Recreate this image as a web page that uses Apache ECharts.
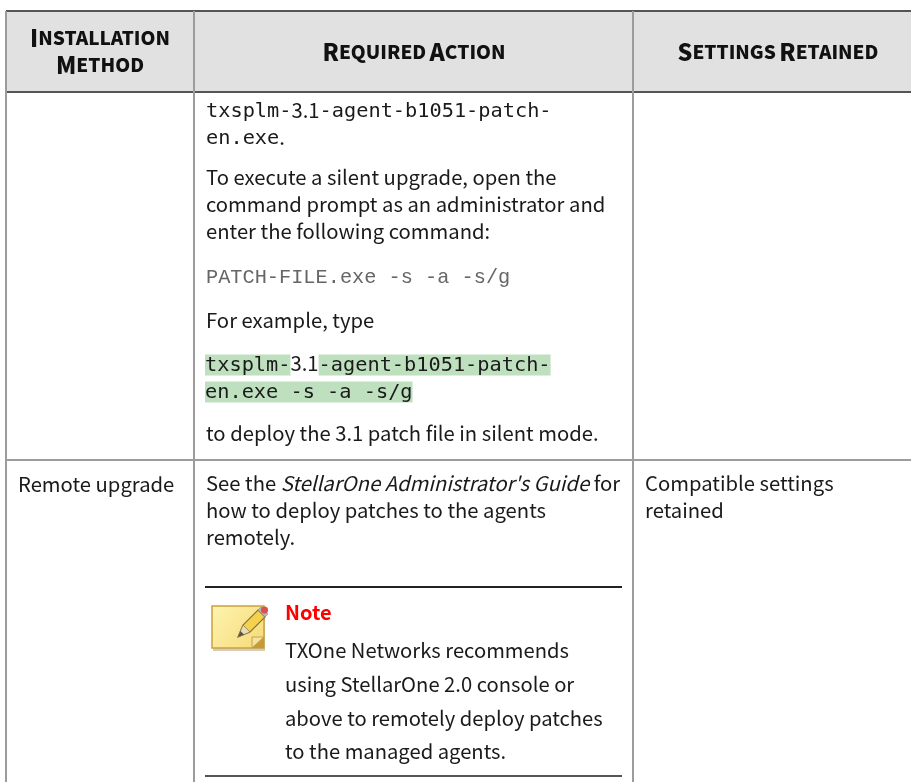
<!DOCTYPE html>
<html>
<head>
<meta charset="utf-8">
<style>html,body{margin:0;padding:0;background:#fff}#main{width:911px;height:782px}</style>
<script src="https://cdn.jsdelivr.net/npm/echarts@6/dist/echarts.min.js"></script>
</head>
<body>
<div id="main"></div>
<script>
// table text
var headerCol1 = ['{c|I}{s|NSTALLATION}', '{c|M}{s|ETHOD}'];
var headerCol2 = ['{c|R}{s|EQUIRED} {c|A}{s|CTION}'];
var headerCol3 = ['{c|S}{s|ETTINGS} {c|R}{s|ETAINED}'];
var codeLines = ['{m|txsplm-}{pl|3.1}{m|-agent-b1051-patch-}', '{m|en.exe}{pl|.}'];
var silentLines = ['To execute a silent upgrade, open the', 'command prompt as an administrator and', 'enter the following command:'];
var patchCommand = ['PATCH-FILE.exe -s -a -s/g'];
var exampleLine = ['For example, type'];
var highlightLines = ['{hl|txsplm-}{pl|3.1}{hl|-agent-b1051-patch-}', '{hl|en.exe -s -a -s/g}'];
var deployLine = ['to deploy the 3.1 patch file in silent mode.'];
var methodCell = ['Remote upgrade'];
var guideLines = ['See the {it|StellarOne Administrator\'s Guide} for', 'how to deploy patches to the agents', 'remotely.'];
var settingsLines = ['Compatible settings', 'retained'];
var noteTitle = ['Note'];
var noteLines = ['TXOne Networks recommends', 'using StellarOne 2.0 console or', 'above to remotely deploy patches', 'to the managed agents.'];

var sans = '"Noto Sans CJK JP","Noto Sans"';
var mono = '"DejaVu Sans Mono"';
var bodyFont = '400 20.25px ' + sans;
var monoFont = '400 20.3px ' + mono;
var elements = [];

function rect(x, y, w, h, fill) {
    elements.push({ type: 'rect', silent: true, shape: { x: x, y: y, width: w, height: h }, style: { fill: fill } });
}
function poly(points, style) {
    elements.push({ type: 'polygon', silent: true, shape: { points: points }, style: style });
}
function block(lines, x, ys, style) {
    lines.forEach(function (t, i) {
        elements.push({
            type: 'text', silent: true, x: x, y: ys[i],
            style: Object.assign({ text: t, verticalAlign: 'middle', align: 'left', fill: '#1a1a1a', font: bodyFont }, style)
        });
    });
}

// header band and grid lines
rect(6, 11, 905, 81, '#e1e1e1');
rect(6, 10, 905, 2, '#555555');
rect(6, 91, 905, 2, '#555555');
rect(5, 11, 2, 771, '#9c9c9c');
rect(193, 11, 2, 771, '#9c9c9c');
rect(632, 11, 2, 771, '#9c9c9c');
rect(6, 459, 905, 2, '#9c9c9c');

var headRich = {
    c: { font: '900 23.2px ' + sans, fill: '#111' },
    s: { font: '900 19px ' + sans, fill: '#111' }
};
function headerRow(lines, cx, ys) {
    lines.forEach(function (t, i) {
        elements.push({ type: 'text', silent: true, x: cx, y: ys[i],
            style: { text: t, align: 'center', verticalAlign: 'middle', rich: headRich } });
    });
}
headerRow(headerCol1, 100, [38, 65]);
headerRow(headerCol2, 414, [52]);
headerRow(headerCol3, 778, [52]);

// action column
var codeRich = {
    m: { font: monoFont, fill: '#1a1a1a' },
    pl: { font: bodyFont, fill: '#1a1a1a', padding: [0, 0, 3, 0] }
};
block(codeLines, 206, [112, 139], { rich: codeRich });
block(silentLines, 206, [177, 204, 231], {});
block(patchCommand, 206, [278], { font: '400 20.3px "Liberation Mono"', fill: '#666666' });
block(exampleLine, 206, [320], {});
var hlRich = {
    hl: { font: monoFont, fill: '#1a1a1a', backgroundColor: '#bfe0bf', height: 19, lineHeight: 19, padding: [2, 0, 0, 0] },
    pl: { font: bodyFont, fill: '#1a1a1a', height: 18, lineHeight: 18, padding: [0, 0, 3, 0] }
};
block(highlightLines, 205, [365, 392], { rich: hlRich });
block(deployLine, 206, [433], {});

// lower row
block(methodCell, 18, [484], {});
block(guideLines, 206, [483, 510, 537], { rich: { it: { font: 'italic ' + bodyFont, fill: '#1a1a1a' } } });
block(settingsLines, 645, [483, 510], {});

// note box
rect(205, 586, 417, 2, '#222222');
rect(205, 775, 417, 2, '#555555');
block(noteTitle, 285, [612], { font: '700 20px ' + sans, fill: '#ff0000' });
block(noteLines, 285, [650, 684, 718, 751], { font: '400 20.2px ' + sans });

// note icon
rect(213, 608, 52, 43, 'rgba(120,90,30,0.3)');
elements.push({ type: 'rect', silent: true, shape: { x: 212, y: 606, width: 52, height: 42 },
    style: { fill: new echarts.graphic.LinearGradient(0, 0, 1, 1, [{ offset: 0, color: '#fdf4b0' }, { offset: 1, color: '#f6d976' }]), stroke: '#c9a23f', lineWidth: 1.5 } });
poly([[252, 648], [252, 637], [264, 637]], { fill: '#f3e3a0', stroke: '#c9a23f', lineWidth: 1 });
poly([[252, 648], [264, 637], [264, 648]], { fill: '#c49a3a' });
// pencil
poly([[238, 637], [243, 625], [258, 610], [265, 617], [250, 632]], { fill: '#f4d24e', stroke: '#8a7430', lineWidth: 1.2 });
poly([[238, 637], [243, 625], [250, 632]], { fill: '#e8dcb8', stroke: '#8a7a50', lineWidth: 0.8 });
poly([[238, 637], [240.5, 631], [244, 634.5]], { fill: '#5c5340' });
poly([[258, 610], [261, 607], [268, 614], [265, 617]], { fill: '#b8b8b0', stroke: '#8a8a80', lineWidth: 0.6 });
elements.push({ type: 'circle', silent: true, shape: { cx: 264.5, cy: 610, r: 3.6 }, style: { fill: '#d8534f' } });

var chart = echarts.init(document.getElementById('main'), null, { renderer: 'canvas' });
chart.setOption({ animation: false, backgroundColor: '#ffffff', graphic: { elements: elements } });
</script>
</body>
</html>
